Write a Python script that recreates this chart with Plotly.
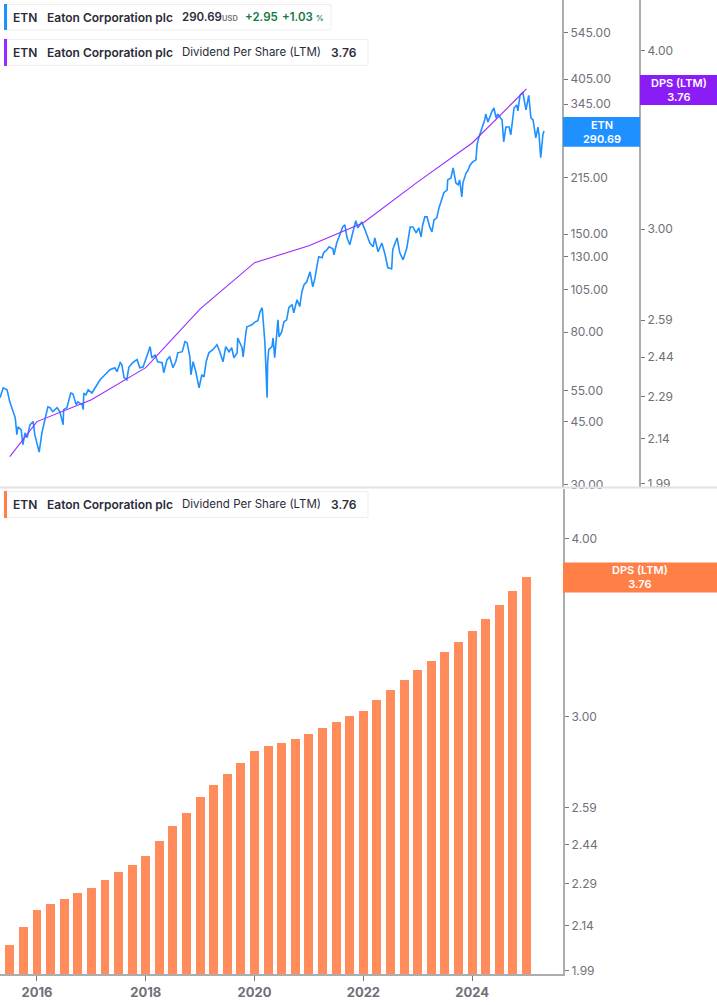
import plotly.graph_objects as go

# Price series: time in decimal years, close in USD
price_years = [2015.32,2015.38,2015.45,2015.50,2015.56,2015.60,2015.63,2015.65,2015.71,2015.74,2015.78,2015.82,2015.87,2015.93,2015.96,2016.00,2016.04,2016.09,2016.11,2016.18,2016.20,2016.24,2016.29,2016.37,2016.42,2016.48,2016.49,2016.55,2016.59,2016.62,2016.66,2016.72,2016.75,2016.83,2016.85,2016.86,2016.90,2016.94,2017.01,2017.07,2017.12,2017.16,2017.25,2017.34,2017.43,2017.47,2017.53,2017.56,2017.60,2017.65,2017.69,2017.76,2017.84,2017.89,2017.95,2018.02,2018.08,2018.11,2018.17,2018.22,2018.30,2018.33,2018.39,2018.44,2018.50,2018.55,2018.59,2018.67,2018.72,2018.76,2018.81,2018.83,2018.87,2018.92,2018.98,2019.03,2019.07,2019.11,2019.16,2019.23,2019.31,2019.36,2019.42,2019.47,2019.53,2019.58,2019.62,2019.68,2019.69,2019.77,2019.79,2019.84,2019.86,2019.95,2020.01,2020.06,2020.10,2020.14,2020.17,2020.19,2020.23,2020.24,2020.26,2020.32,2020.34,2020.37,2020.43,2020.45,2020.50,2020.54,2020.59,2020.63,2020.69,2020.72,2020.78,2020.83,2020.87,2020.91,2020.96,2021.02,2021.07,2021.11,2021.15,2021.18,2021.24,2021.27,2021.33,2021.37,2021.44,2021.46,2021.51,2021.57,2021.62,2021.66,2021.70,2021.75,2021.81,2021.86,2021.90,2021.97,2022.03,2022.07,2022.12,2022.18,2022.21,2022.27,2022.34,2022.40,2022.45,2022.52,2022.54,2022.62,2022.67,2022.73,2022.80,2022.86,2022.91,2022.97,2023.02,2023.06,2023.09,2023.13,2023.17,2023.22,2023.26,2023.30,2023.35,2023.39,2023.44,2023.48,2023.54,2023.55,2023.61,2023.65,2023.70,2023.74,2023.77,2023.81,2023.83,2023.89,2023.92,2023.96,2024.01,2024.07,2024.09,2024.12,2024.18,2024.23,2024.25,2024.29,2024.36,2024.40,2024.44,2024.47,2024.55,2024.58,2024.62,2024.68,2024.71,2024.77,2024.82,2024.84,2024.88,2024.93,2024.99,2025.04,2025.08,2025.12,2025.17,2025.21,2025.23,2025.26,2025.30,2025.32]
price_values = [52.5,55.9,55.2,51.1,48.0,46.2,41.4,43.5,42.7,38.8,41.9,40.6,44.1,45.0,41.4,38.8,37.0,41.9,43.2,47.1,49.5,49.2,48.0,49.2,48.0,44.1,48.6,49.2,51.8,54.1,53.8,50.2,51.1,50.2,48.6,54.1,53.4,55.2,54.1,55.9,57.7,58.9,60.8,62.8,63.6,62.0,65.7,64.9,59.7,58.9,63.9,65.7,67.0,63.6,63.9,68.2,72.8,67.8,69.0,66.1,65.7,61.6,67.0,68.2,63.6,66.1,70.0,70.5,75.2,74.7,68.2,60.8,66.1,62.0,55.9,60.8,60.0,66.1,70.0,71.4,73.7,70.5,66.1,72.8,70.5,72.3,67.8,70.0,77.0,72.3,68.2,79.7,82.7,83.8,85.4,86.0,91.1,93.5,81.2,74.7,52.5,65.7,71.4,72.8,77.0,67.8,86.5,77.5,80.2,85.4,86.5,93.5,95.4,90.5,98.4,94.2,103.6,108.4,110.4,117.7,106.9,113.0,123.1,129.6,128.8,133.0,135.6,138.2,136.5,131.3,141.6,149.2,157.0,159.0,146.4,140.0,152.1,163.3,156.0,162.2,154.1,149.2,141.6,138.2,146.4,133.9,141.6,131.3,120.8,120.0,135.6,146.4,133.0,127.1,137.3,157.0,157.0,151.2,156.0,147.3,159.0,167.5,167.5,157.0,152.1,164.3,166.4,177.4,189.2,195.6,199.1,212.3,215.0,229.3,208.3,205.6,212.3,190.4,208.3,222.2,225.0,233.4,238.3,241.4,265.8,278.0,296.4,311.9,324.0,308.0,328.4,336.8,316.0,324.0,311.9,270.9,298.0,298.0,283.4,336.8,343.3,330.5,365.4,372.6,332.6,365.4,316.0,311.9,278.0,298.0,283.4,245.0,283.4,290.69]

# Quarterly dividend per share, last twelve months (bars)
dps_years = [2015.5,2015.75,2016.0,2016.25,2016.5,2016.75,2017.0,2017.25,2017.5,2017.75,2018.0,2018.25,2018.5,2018.75,2019.0,2019.25,2019.5,2019.75,2020.0,2020.25,2020.5,2020.75,2021.0,2021.25,2021.5,2021.75,2022.0,2022.25,2022.5,2022.75,2023.0,2023.25,2023.5,2023.75,2024.0,2024.25,2024.5,2024.75,2025.0]
dps_values = [2.078,2.139,2.199,2.220,2.238,2.260,2.278,2.308,2.338,2.364,2.399,2.458,2.518,2.571,2.638,2.690,2.738,2.787,2.842,2.864,2.878,2.897,2.921,2.949,2.978,3.006,3.031,3.085,3.136,3.186,3.238,3.286,3.334,3.388,3.448,3.516,3.596,3.678,3.762]

# Yearly points of the dividend line in the upper pane
dps_line_years = [2015.5,2016.0,2017.0,2018.0,2019.0,2020.0,2021.0,2022.0,2023.0,2024.0,2025.0]
dps_line_values = [2.078,2.199,2.278,2.399,2.638,2.842,2.921,3.031,3.238,3.448,3.762]

price_ticks = [545, 405, 345, 285, 215, 150, 130, 105, 80, 55, 45, 30]
dps_ticks = [4.00, 3.00, 2.59, 2.44, 2.29, 2.14, 1.99]
year_ticks = [2016, 2018, 2020, 2022, 2024]

W, H = 717, 1005
BLUE, PURPLE, ORANGE = "#1E90FF", "#9A2BFF", "#FF8C5A"
AXIS = "#ADADAD"
TICKTXT = "#6F7079"
DARK = "#2A2C39"
GREEN = "#14793F"
FONT = "Inter"


def px(x):
    return x / W


def py(y):
    return 1 - y / H


fig = go.Figure()
fig.add_trace(go.Scatter(x=price_years, y=price_values, mode="lines", line=dict(color=BLUE, width=1.6), xaxis="x", yaxis="y", hoverinfo="skip"))
fig.add_trace(go.Scatter(x=dps_line_years, y=dps_line_values, mode="lines", line=dict(color=PURPLE, width=1.1), xaxis="x", yaxis="y2", hoverinfo="skip"))
fig.add_trace(go.Bar(x=dps_years, y=dps_values, marker=dict(color=ORANGE, line=dict(width=0)), width=0.165, xaxis="x2", yaxis="y3", hoverinfo="skip"))

xr = [2015.32, 2025.67]
tf = dict(family=FONT, size=12, color=TICKTXT)
yax = dict(type="log", side="right", showgrid=False, zeroline=False, showline=True, linecolor=AXIS, linewidth=2,
           ticks="outside", ticklen=4, tickwidth=1, tickcolor="#777777", tickfont=tf, tickmode="array")

fig.update_layout(
    width=W, height=H + 5, margin=dict(l=0, r=0, t=0, b=0), autosize=False,
    paper_bgcolor="white", plot_bgcolor="white", showlegend=False, bargap=0,
    xaxis=dict(domain=[0, px(563)], range=xr, visible=False, anchor="y"),
    xaxis2=dict(domain=[0, px(563)], range=xr, anchor="y3", showgrid=False, zeroline=False, showline=True,
                linecolor=AXIS, linewidth=2, ticks="outside", ticklen=5, tickcolor="#777777",
                tickmode="array", tickvals=year_ticks, ticktext=[str(v) for v in year_ticks],
                tickfont=dict(family=FONT, size=13, color=TICKTXT, weight=700)),
    yaxis=dict(**yax, domain=[py(487), 1], range=[1.4725, 2.8283], anchor="free", position=px(563),
               tickvals=price_ticks, ticktext=[f"{v:.2f}" for v in price_ticks]),
    yaxis2=dict(**yax, domain=[py(487), 1], range=[0.2967, 0.6378], anchor="free", position=px(640), overlaying="y",
                tickvals=dps_ticks, ticktext=[f"{v:.2f}" for v in dps_ticks]),
    yaxis3=dict(**yax, domain=[py(975), py(489)], range=[0.2967, 0.6371], anchor="x2",
                tickvals=dps_ticks, ticktext=[f"{v:.2f}" for v in dps_ticks]),
)

shapes = []
annots = []


def box(x0, y0, x1, y1, fill, line=None):
    shapes.append(dict(type="rect", xref="paper", yref="paper", x0=px(x0), x1=px(x1), y0=py(y1), y1=py(y0),
                       fillcolor=fill, line=dict(width=1 if line else 0, color=line or fill), layer="above"))


def text(x, y, s, size=12, color=DARK, weight=600, anchor="left"):
    annots.append(dict(xref="paper", yref="paper", x=px(x), y=py(y), text=s, showarrow=False, xanchor=anchor, yanchor="middle",
                       borderpad=0, font=dict(family=FONT, size=size, color=color, weight=weight)))


# pane separator
box(0, 487, W, 489, "#E2E2E2")

# legends
box(4.5, 4.5, 331, 30, "white", "#EEEEEE")
box(4, 4, 7, 30, BLUE)
text(12, 17.5, "ETN")
text(46, 17.5, "Eaton Corporation plc")
text(181, 17.5, "290.69", size=11.5)
text(221, 18.5, "USD", size=7.5, color=TICKTXT)
text(244, 17.5, "+2.95", size=11.5, color=GREEN)
text(281, 17.5, "+1.03", size=11.5, color=GREEN)
text(315, 18.5, "%", size=7.5, color=GREEN)

for top, col in ((39, PURPLE), (491.5, "#FF7F45")):
    box(4.5, top + 0.5, 368, top + 26.5, "white", "#EEEEEE")
    box(4, top, 7, top + 27, col)
    mid = top + 13.5
    text(12, mid, "ETN")
    text(46, mid, "Eaton Corporation plc")
    text(181, mid, "Dividend Per Share (LTM)", size=11.5, weight=400)
    text(330, mid, "3.76")

# last-value tags
box(563, 117, 640, 147, BLUE)
text(601.5, 132, "ETN<br>290.69", size=11, color="white", weight=600, anchor="center")
box(640, 75, 717, 105, "#8A1CF5")
text(678.5, 90, "DPS (LTM)<br>3.76", size=11, color="white", weight=600, anchor="center")
box(563, 563, 717, 593, "#FF7F47")
text(640, 578, "DPS (LTM)<br>3.76", size=11, color="white", weight=600, anchor="center")

fig.update_layout(shapes=shapes, annotations=annots)
fig.write_html("out.html", config=dict(displayModeBar=False),
               post_script="document.body.style.margin='0';document.body.style.overflow='hidden';")
